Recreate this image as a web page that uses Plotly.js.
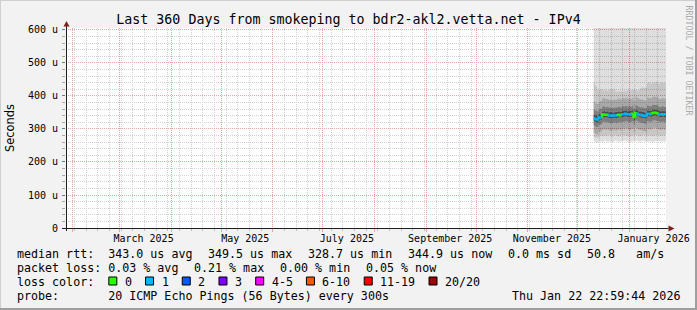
<!DOCTYPE html>
<html><head><meta charset="utf-8">
<script src="https://cdn.plot.ly/plotly-3.0.1.min.js"></script>
<style>html,body{margin:0;padding:0;background:#f2f2f2;}#chart{width:697px;height:310px;}</style>
</head><body><div id="chart"></div>
<script>
// ---------------- data ----------------
const startTime = '2025-01-27 22:59:44';
const endTime = '2026-01-22 22:59:44';
const days = ['2025-12-10 12:00','2025-12-11 12:00','2025-12-12 12:00','2025-12-13 12:00','2025-12-14 12:00','2025-12-15 12:00','2025-12-16 12:00','2025-12-17 12:00','2025-12-18 12:00','2025-12-19 12:00','2025-12-20 12:00','2025-12-21 12:00','2025-12-22 12:00','2025-12-23 12:00','2025-12-24 12:00','2025-12-25 12:00','2025-12-26 12:00','2025-12-27 12:00','2025-12-28 12:00','2025-12-29 12:00','2025-12-30 12:00','2025-12-31 12:00','2026-01-01 12:00','2026-01-02 12:00','2026-01-03 12:00','2026-01-04 12:00','2026-01-05 12:00','2026-01-06 12:00','2026-01-07 12:00','2026-01-08 12:00','2026-01-09 12:00','2026-01-10 12:00','2026-01-11 12:00','2026-01-12 12:00','2026-01-13 12:00','2026-01-14 12:00','2026-01-15 12:00','2026-01-16 12:00','2026-01-17 12:00','2026-01-18 12:00','2026-01-19 12:00','2026-01-20 12:00','2026-01-21 12:00','2026-01-22 12:00'];
// median rtt (microseconds)
const median = [333,330,328.7,335,335,343,344,343,343,341,341,340,341,341,342,343,342,345,345,346,345,345,344,346,336,348,347,343,343,342,340,339,346,346,345,348,349.5,349,348,344,344,345,344,344.9];
// lost pings out of 20
const loss = [1,1,1,1,1,0,0,0,0,1,1,1,1,1,0,0,0,1,1,1,1,1,1,0,0,0,1,1,1,1,1,1,1,1,1,0,0,0,0,1,1,1,1,1];
// smoke: ping distribution bands (microseconds), outer -> inner
const lo1 = [262,258,260,262,263,260,264,262,261,263,262,260,263,264,262,261,263,262,264,263,262,260,261,263,262,264,263,261,262,264,263,262,261,263,262,260,262,263,264,262,261,263,262,263];
const hi1 = [720,710,730,715,720,725,718,722,716,720,724,719,721,717,723,720,718,722,719,721,716,720,725,718,722,719,721,724,717,720,722,718,721,719,723,720,718,722,720,719,721,718,720,722];
const lo2 = [276,272,274,278,280,279,281,278,280,282,279,277,280,281,279,278,281,280,282,279,278,277,279,281,280,282,281,278,279,282,281,280,279,281,280,278,280,281,282,280,279,281,280,281];
const hi2 = [440,432,420,418,421,419,417,420,416,418,421,420,421,414,413,415,414,413,416,414,418,419,417,418,420,418,416,419,425,426,424,426,440,442,438,441,439,443,440,438,441,440,439,442];
const lo3 = [288,284,283,290,292,297,300,296,299,295,294,296,298,295,297,299,295,300,298,302,299,297,298,301,292,303,300,297,296,295,293,292,300,299,298,302,304,303,301,298,297,300,297,299];
const hi3 = [384,378,376,383,385,392,394,390,392,388,389,387,390,388,391,393,389,394,392,395,392,394,391,395,386,397,395,391,390,389,387,386,396,394,393,398,399,397,396,392,391,394,391,393];
const lo4 = [310,306,305,312,313,320,322,319,321,318,317,318,320,317,319,321,318,322,321,324,322,320,321,323,313,325,323,320,319,318,316,315,323,322,321,325,326,325,324,320,321,322,320,321];
const hi4 = [360,356,354,360,361,368,369,366,368,365,366,364,366,365,367,368,366,370,369,371,368,370,368,371,362,372,371,367,366,366,364,363,371,370,369,373,374,373,372,368,367,370,367,369];
const lo5 = [324,321,319,326,328,335,335,336,334,333,332,332,334,333,333,336,334,336,337,338,336,337,335,338,327,339,338,335,334,333,332,331,337,338,336,339,341,340,339,336,335,337,335,336];
const hi5 = [344,342,340,346,345,353,355,352,354,351,352,350,351,352,353,354,352,356,355,357,354,356,355,357,349,358,357,353,354,352,351,350,357,356,355,359,360,359,358,355,354,356,354,355];

// axis ticks
const yTicks = [0,100,200,300,400,500,600];
const yTickText = ['0','100 u','200 u','300 u','400 u','500 u','600 u'];
const monthStarts = ['2025-02-01','2025-03-01','2025-04-01','2025-05-01','2025-06-01','2025-07-01','2025-08-01','2025-09-01','2025-10-01','2025-11-01','2025-12-01','2026-01-01'];
const monthLabelPos = ['2025-03-15 12:00','2025-05-15 12:00','2025-07-15 12:00','2025-09-15 12:00','2025-11-15 12:00','2026-01-15 12:00'];
const monthLabels = ['March 2025','May 2025','July 2025','September 2025','November 2025','January 2026'];

// legend content
const medianStats = [343.0, 349.5, 328.7, 344.9];
const sdevMs = 0.0;
const amPerS = 50.8;
const lossStats = [0.03, 0.21, 0.00, 0.05];
const lossLabels = ['0','1','2','3','4-5','6-10','11-19','20/20'];
const lossColors = ['#26ff00','#00b8ff','#0059ff','#7e00ff','#ff00ff','#ff5500','#ff0000','#a10000'];
const lossLimits = [0,1,2,3,5,10,19,20];
const probeText = '20 ICMP Echo Pings (56 Bytes) every 300s';
const dateText = 'Thu Jan 22 22:59:44 2026';
const titleText = 'Last 360 Days from smokeping to bdr2-akl2.vetta.net - IPv4';

// ---------------- build ----------------
const U = 1e-6;
const MONO = 'DejaVu Sans Mono';
const px = x => (x - 66) / 600;
const py = y => (228 - y) / 200;
const xs = days.concat([endTime]);
const ext = a => a.concat([a[a.length - 1]]).map(v => v * U);

const traces = [];
const bandAlpha = [0.13, 0.22, 0.34, 0.50, 0.70];
const los = [lo1, lo2, lo3, lo4, lo5];
const his = [hi1, hi2, hi3, hi4, hi5];
function edge(arr, fillA) {
  const t = {x: xs, y: ext(arr), type: 'scatter', mode: 'lines', line: {width: 0, shape: 'hv'}, hoverinfo: 'skip', showlegend: false};
  if (fillA !== undefined) { t.fill = 'tonexty'; t.fillcolor = 'rgba(0,0,0,' + fillA + ')'; }
  return t;
}
for (let k = 0; k < 4; k++) {
  traces.push(edge(los[k]), edge(los[k + 1], bandAlpha[k]));
  traces.push(edge(his[k + 1]), edge(his[k], bandAlpha[k]));
}
traces.push(edge(lo5), edge(hi5, bandAlpha[4]));

// median line coloured by loss
function lossIndex(l) { for (let i = 0; i < lossLimits.length; i++) if (l <= lossLimits[i]) return i; return lossLimits.length - 1; }
lossColors.forEach((c, ci) => {
  const mx = [], my = [];
  median.forEach((m, i) => {
    if (lossIndex(loss[i]) !== ci) return;
    const prev = i > 0 ? median[i - 1] : m;
    mx.push(xs[i], xs[i], xs[i + 1], null);
    my.push(prev * U, m * U, m * U, null);
  });
  if (mx.length) traces.push({x: mx, y: my, xaxis: 'x2', type: 'scatter', mode: 'lines', line: {color: c, width: 2.5}, hoverinfo: 'skip', showlegend: false, connectgaps: false});
});

// ---------------- annotations / legend ----------------
const ann = [];
const CW = 11.66 * 0.602;
const GAP = 15.8;
const nb = s => s.replace(/ /g, '\u00a0');
function txt(s, x, yc, anchor) {
  ann.push({text: nb(s), xref: 'paper', yref: 'paper', x: px(x), y: py(yc), xanchor: anchor || 'left', yanchor: 'middle',
    showarrow: false, borderpad: 0, font: {family: MONO, size: 11.66, color: '#000'}});
}
function row(items, yc) { let x = 16; items.forEach(s => { txt(s, x, yc); x += s.length * CW + GAP; }); }
const f1 = v => v.toFixed(1), f2 = v => v.toFixed(2);
row(['median rtt:  ' + f1(medianStats[0]) + ' us avg', f1(medianStats[1]) + ' us max', f1(medianStats[2]) + ' us min', f1(medianStats[3]) + ' us now', f1(sdevMs) + ' ms sd', f1(amPerS) + '   am/s'], 254);
row(['packet loss: ' + f2(lossStats[0]) + ' % avg', f2(lossStats[1]) + ' % max', f2(lossStats[2]) + ' % min', f2(lossStats[3]) + ' % now'], 268);
const shapes = [];
txt('loss color:', 16, 282);
let bx = 16 + 11 * CW + 15.1;
lossLabels.forEach((lab, i) => {
  shapes.push({type: 'rect', xref: 'paper', yref: 'paper', x0: px(bx + 0.5), x1: px(bx + 8.5), y0: py(285), y1: py(277), fillcolor: lossColors[i], line: {color: '#000', width: 1}, layer: 'above'});
  txt(lab, bx + 15.5, 282);
  bx = bx + 15.5 + lab.length * CW + 14.2;
});
txt('probe:       ' + probeText, 16, 296);
txt(dateText, 681, 296, 'right');
// vertical watermark
ann.push({text: nb('RRDTOOL / TOBI OETIKER'), xref: 'paper', yref: 'paper', x: px(688.5), y: py(60), textangle: 90, showarrow: false,
  xanchor: 'center', yanchor: 'middle', font: {family: MONO, size: 8.3, color: '#aaaaaa'}});

// axis lines, arrows, frame
const line = (x0, y0, x1, y1, c, w) => ({type: 'line', xref: 'paper', yref: 'paper', x0: px(x0), y0: py(y0), x1: px(x1), y1: py(y1), line: {color: c, width: w}, layer: 'above'});
shapes.push(line(62, 228.5, 668.5, 228.5, '#1f1f1f', 1));
shapes.push(line(66.5, 231, 66.5, 26, '#1f1f1f', 1));
shapes.push({type: 'path', xref: 'paper', yref: 'paper', path: `M${px(66.5)},${py(21)} L${px(63.5)},${py(26.5)} L${px(69.5)},${py(26.5)} Z`, fillcolor: '#7f1f1f', line: {width: 0}, layer: 'above'});
shapes.push({type: 'path', xref: 'paper', yref: 'paper', path: `M${px(674.5)},${py(228.5)} L${px(668.5)},${py(225.5)} L${px(668.5)},${py(231.5)} Z`, fillcolor: '#7f1f1f', line: {width: 0}, layer: 'above'});
shapes.push(line(0, 0.5, 697, 0.5, '#cfcfcf', 1));
shapes.push(line(0.5, 0, 0.5, 310, '#cfcfcf', 1));
shapes.push(line(0, 309, 697, 309, '#9e9e9e', 2));
shapes.push(line(696, 0, 696, 310, '#9e9e9e', 2));

const axisFont = {family: MONO, size: 10, color: '#000'};
const layout = {
  width: 697, height: 310,
  margin: {l: 66, r: 31, t: 28, b: 82, pad: 0},
  paper_bgcolor: '#f2f2f2', plot_bgcolor: '#ffffff',
  showlegend: false,
  title: {text: titleText, font: {family: MONO, size: 13.3, color: '#000'}, x: 0.5, xref: 'container', xanchor: 'center', y: 1 - 19 / 310, yref: 'container', yanchor: 'middle'},
  xaxis: {type: 'date', range: [startTime, endTime], fixedrange: true,
    tickmode: 'array', tickvals: monthStarts, ticktext: monthStarts.map(() => ''),
    showgrid: true, gridcolor: '#eea4a4', griddash: '1px,1px', gridwidth: 1,
    ticks: 'outside', ticklen: 3, tickcolor: '#eea4a4',
    minor: {tick0: '2025-01-05', dtick: 7 * 86400000, showgrid: true, gridcolor: '#d2d2d2', griddash: '1px,1px', ticks: 'outside', ticklen: 2, tickcolor: '#c0c0c0'},
    showline: false, zeroline: false},
  xaxis2: {type: 'date', range: [startTime, endTime], matches: 'x', overlaying: 'x', anchor: 'y', side: 'bottom', fixedrange: true,
    tickmode: 'array', tickvals: monthLabelPos, ticktext: monthLabels, showgrid: false, ticks: '', showline: false, zeroline: false,
    tickfont: axisFont, ticklabelstandoff: 3},
  yaxis: {range: [0, 606 * U], fixedrange: true,
    tickmode: 'array', tickvals: yTicks.map(v => v * U), ticktext: yTickText,
    showgrid: true, gridcolor: '#eea4a4', griddash: '1px,1px', gridwidth: 1,
    ticks: 'outside', ticklen: 3, tickcolor: '#777',
    minor: {tick0: 0, dtick: 20 * U, showgrid: true, gridcolor: '#d2d2d2', griddash: '1px,1px', ticks: 'outside', ticklen: 3, tickcolor: '#aaa'},
    showline: false, zeroline: false, tickfont: axisFont, ticklabelstandoff: 2,
    title: {text: 'Seconds', font: {family: 'DejaVu Sans', size: 11.4, color: '#000'}, standoff: 10}},
  annotations: ann,
  shapes: shapes
};
Plotly.newPlot('chart', traces, layout, {staticPlot: true, displayModeBar: false});
</script>
</body></html>
